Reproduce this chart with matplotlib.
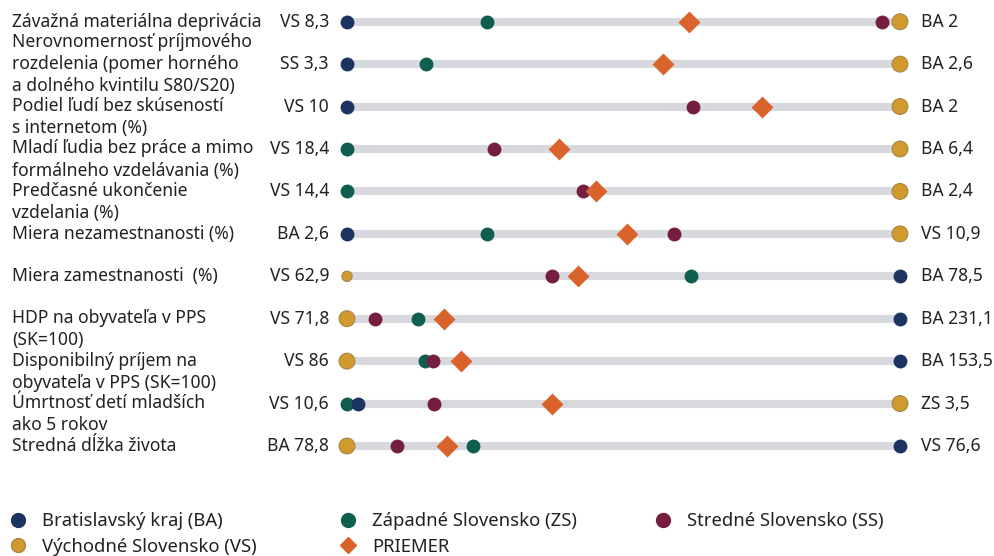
import matplotlib.pyplot as plt
import numpy as np
from matplotlib.lines import Line2D
from matplotlib.transforms import blended_transform_factory

plt.rcParams['font.family'] = ['Noto Sans', 'DejaVu Sans']

# indicators (rows, top to bottom)
labels = ['Závažná materiálna deprivácia',
          'Nerovnomernosť príjmového\nrozdelenia (pomer horného\na dolného kvintilu S80/S20)',
          'Podiel ľudí bez skúseností\ns internetom (%)',
          'Mladí ľudia bez práce a mimo\nformálneho vzdelávania (%)',
          'Predčasné ukončenie\nvzdelania (%)',
          'Miera nezamestnanosti (%)',
          'Miera zamestnanosti  (%)',
          'HDP na obyvateľa v PPS\n(SK=100)',
          'Disponibilný príjem na\nobyvateľa v PPS (SK=100)',
          'Úmrtnosť detí mladších\nako 5 rokov',
          'Stredná dĺžka života']
left_vals = ['VS 8,3', 'SS 3,3', 'VS 10', 'VS 18,4', 'VS 14,4', 'BA 2,6',
             'VS 62,9', 'VS 71,8', 'VS 86', 'VS 10,6', 'BA 78,8']
right_vals = ['BA 2', 'BA 2,6', 'BA 2', 'BA 6,4', 'BA 2,4', 'VS 10,9',
              'BA 78,5', 'BA 231,1', 'BA 153,5', 'ZS 3,5', 'VS 76,6']

# relative position on the scale (0 = worst region, 1 = best region)
nan = np.nan
ba = [0, 0, 0, nan, nan, 0, 1, 1, 1, 0.019, 1]
zs = [0.253, 0.143, nan, 0, 0, 0.253, 0.622, 0.129, 0.141, 0, 0.227]
ss = [0.967, nan, 0.625, 0.266, 0.426, 0.591, 0.371, 0.051, 0.155, 0.158, 0.091]
vs = [1, 1, 1, 1, 1, 1, 0, 0, 0, 1, 0]
priemer = [0.618, 0.571, 0.751, 0.383, 0.450, 0.506, 0.417, 0.176, 0.207, 0.371, 0.180]

c_ba = '#1c3461'
c_zs = '#0f5e50'
c_ss = '#761e3f'
c_vs = '#d09a2c'
c_pr = '#d9632a'
c_bar = '#d7d9df'
c_txt = '#222222'

n = len(labels)
y = np.arange(n)

fig = plt.figure(figsize=(9.95, 5.56), dpi=100)
ax = fig.add_axes([347/995, 0.1597, 553/995, 0.8394])
ax.set_xlim(0, 1)
ax.set_ylim(n - 0.5, -0.5)
ax.axis('off')

# grey bars
ax.hlines(y, 0, 1, color=c_bar, lw=5.8, zorder=1)

vs_size = np.full(n, 130.0)
vs_size[6] = 55  # smaller marker in the employment row

ax.scatter(zs, y, s=100, color=c_zs, zorder=3, clip_on=False, lw=0)
ax.scatter(ba, y, s=100, color=c_ba, zorder=4, clip_on=False, lw=0)
ax.scatter(ss, y, s=100, color=c_ss, zorder=5, clip_on=False, lw=0)
ax.scatter(vs, y, s=vs_size, color=c_vs, edgecolor='#a8844a', lw=0.8,
           zorder=6, clip_on=False)
ax.scatter(priemer, y, s=125, marker='D', color=c_pr, zorder=7,
           clip_on=False, lw=0)

tr = blended_transform_factory(fig.transFigure, ax.transData)
line_h = 0.495
fs = 12.6
for i in range(n):
    nl = labels[i].count('\n') + 1
    off = ((nl - 1) / 2 - (nl - 1) // 2) * line_h
    ax.text(12/995, i + off, labels[i], transform=tr, ha='left', va='center',
            fontsize=fs, color=c_txt, linespacing=1.3)
    ax.text(329/995, i, left_vals[i], transform=tr, ha='right', va='center',
            fontsize=fs, color=c_txt)
    ax.text(921/995, i, right_vals[i], transform=tr, ha='left', va='center',
            fontsize=fs, color=c_txt)

# legend, three columns placed by hand
def h(color, marker='o', ms=10, mec=None):
    return Line2D([], [], ls='', marker=marker, color=color, ms=ms,
                  mec=mec if mec else color)

lfs = 13.3
cols = [([h(c_ba), h(c_vs, mec='#a8844a')],
         ['Bratislavský kraj (BA)', 'Východné Slovensko (VS)'], 8.75),
        ([h(c_zs), h(c_pr, 'D', 8)],
         ['Západné Slovensko (ZS)', 'PRIEMER'], 338.75),
        ([h(c_ss)], ['Stredné Slovensko (SS)'], 653.75)]
for handles, texts, x0 in cols:
    fig.legend(handles, texts, loc='upper left',
               bbox_to_anchor=(x0/995, 1 - 512/556), frameon=False,
               fontsize=lfs, handlelength=1.0, handletextpad=0.8,
               borderpad=0, borderaxespad=0, labelspacing=0.42,
               labelcolor=c_txt)

plt.savefig('out.png', dpi=100)
